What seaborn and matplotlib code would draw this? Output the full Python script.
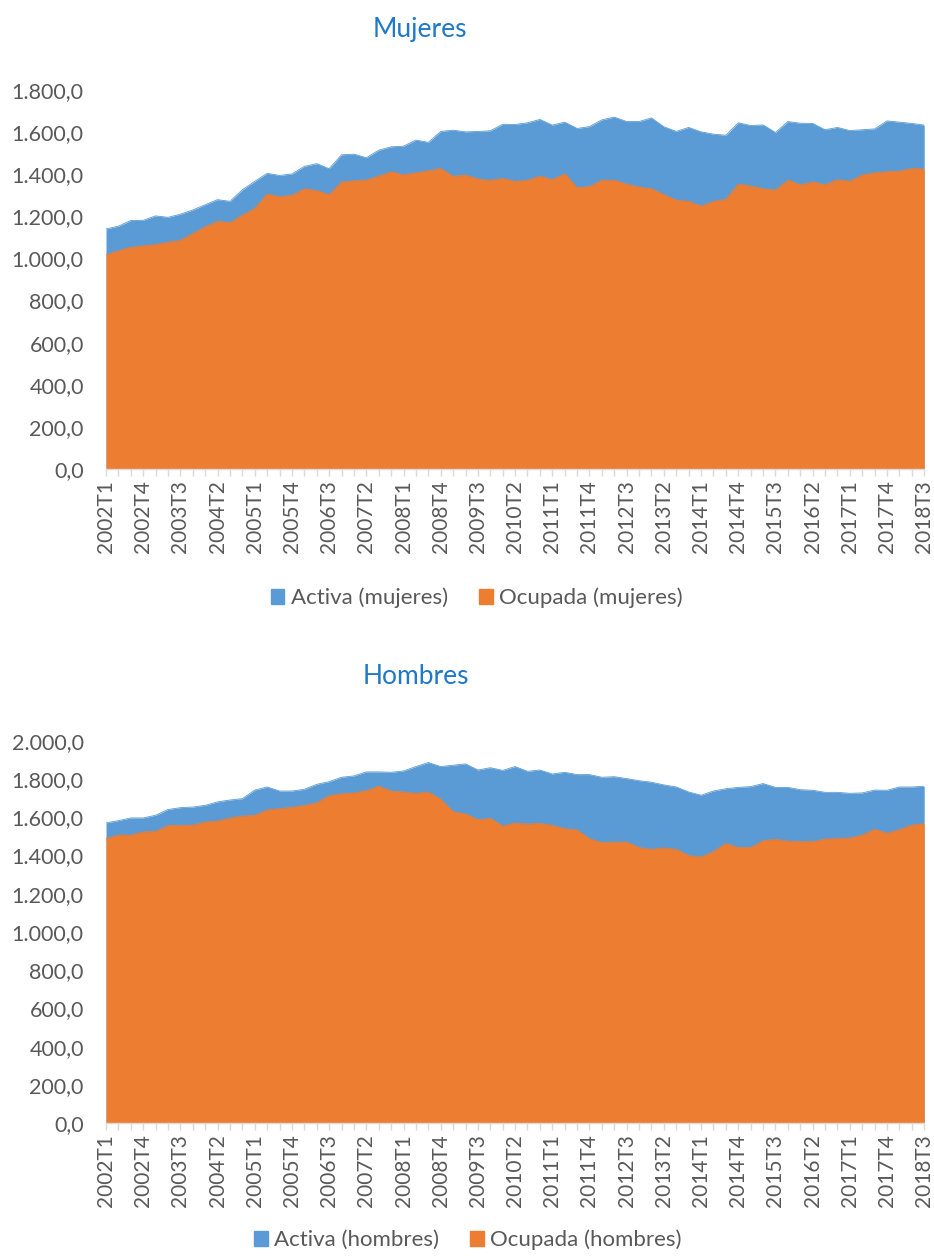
import matplotlib
matplotlib.use("Agg")
import matplotlib.pyplot as plt
import seaborn as sns
import pandas as pd
from matplotlib.ticker import FuncFormatter
from matplotlib.patches import Patch

# quarters 2002T1 .. 2018T3
quarters = [f"{y}T{q}" for y in range(2002, 2019) for q in range(1, 5)][:67]

activa_mujeres = [1140, 1153, 1180, 1181, 1202, 1195, 1210, 1230, 1255, 1279, 1271, 1326, 1366, 1404,
                  1394, 1401, 1437, 1450, 1426, 1492, 1495, 1478, 1514, 1530, 1533, 1562, 1551, 1603,
                  1609, 1601, 1603, 1606, 1637, 1636, 1644, 1660, 1633, 1647, 1617, 1626, 1658, 1671,
                  1650, 1650, 1667, 1625, 1603, 1622, 1601, 1590, 1585, 1644, 1631, 1634, 1598, 1650,
                  1642, 1641, 1611, 1622, 1607, 1611, 1615, 1653, 1647, 1641, 1633]
ocupada_mujeres = [1017, 1037, 1053, 1060, 1066, 1077, 1086, 1118, 1151, 1176, 1170, 1206, 1238, 1306,
                   1293, 1300, 1331, 1322, 1303, 1363, 1369, 1372, 1391, 1412, 1397, 1407, 1416, 1427,
                   1390, 1396, 1377, 1371, 1380, 1366, 1371, 1391, 1374, 1402, 1336, 1342, 1372, 1371,
                   1353, 1339, 1331, 1303, 1277, 1271, 1249, 1271, 1281, 1353, 1344, 1331, 1325, 1372,
                   1350, 1363, 1350, 1374, 1367, 1397, 1407, 1412, 1415, 1427, 1425]
activa_hombres = [1571, 1583, 1597, 1597, 1611, 1641, 1651, 1654, 1663, 1681, 1691, 1698, 1743, 1759,
                  1738, 1738, 1747, 1773, 1787, 1810, 1817, 1838, 1838, 1836, 1843, 1866, 1887, 1866,
                  1873, 1880, 1848, 1860, 1846, 1866, 1841, 1848, 1827, 1836, 1824, 1824, 1810, 1813,
                  1803, 1792, 1784, 1770, 1759, 1733, 1716, 1738, 1750, 1757, 1761, 1777, 1757, 1757,
                  1745, 1742, 1731, 1731, 1726, 1728, 1743, 1742, 1759, 1759, 1763]
ocupada_hombres = [1490, 1508, 1508, 1524, 1527, 1557, 1558, 1560, 1576, 1581, 1597, 1607, 1611, 1639,
                   1646, 1653, 1663, 1677, 1714, 1724, 1728, 1740, 1763, 1738, 1733, 1726, 1733, 1695,
                   1630, 1618, 1588, 1595, 1555, 1571, 1565, 1569, 1558, 1541, 1534, 1489, 1468, 1471,
                   1471, 1442, 1433, 1440, 1433, 1400, 1393, 1422, 1464, 1442, 1443, 1478, 1485, 1476,
                   1473, 1473, 1487, 1489, 1492, 1508, 1538, 1517, 1536, 1560, 1567]

BLUE = "#5B9BD5"
ORANGE = "#ED7D31"
GREY = "#595959"
TITLE_BLUE = "#1F78C8"

sns.set_theme(style="white")
plt.rcParams['font.family'] = ['Lato', 'DejaVu Sans']


def es_fmt(v, pos):
    return f"{v:,.1f}".replace(",", "X").replace(".", ",").replace("X", ".")


def area_panel(ax, activa, ocupada, ymax):
    df = pd.DataFrame({"x": range(len(quarters)), "activa": activa, "ocupada": ocupada})
    ax.fill_between(df["x"], 0, df["activa"], color=BLUE, linewidth=0)
    ax.fill_between(df["x"], 0, df["ocupada"], color=ORANGE, linewidth=0)
    sns.lineplot(data=df, x="x", y="activa", ax=ax, color=BLUE, linewidth=0.6)
    sns.lineplot(data=df, x="x", y="ocupada", ax=ax, color=ORANGE, linewidth=0.6)

    ax.set_xlim(0, len(quarters) - 1)
    ax.set_ylim(0, ymax)
    ax.set_yticks(range(0, ymax + 1, 200))
    ax.yaxis.set_major_formatter(FuncFormatter(es_fmt))
    ax.set_xticks(range(len(quarters)))
    ax.set_xticklabels([q if i % 3 == 0 else "" for i, q in enumerate(quarters)], rotation=90)
    ax.tick_params(axis="x", colors="#D9D9D9", labelcolor=GREY, labelsize=15,
                   length=5, width=1, direction="out", bottom=True, pad=3)
    ax.tick_params(axis="y", colors=GREY, labelsize=15.5, length=0, pad=16)
    ax.set_xlabel("")
    ax.set_ylabel("")
    for s in ["top", "right", "left"]:
        ax.spines[s].set_visible(False)
    ax.spines["bottom"].set_color("#D9D9D9")
    ax.spines["bottom"].set_linewidth(1)


fig = plt.figure(figsize=(9.34, 12.58), dpi=100)
ax1 = fig.add_axes([0.1135, 0.6272, 0.876, 0.3013])
ax2 = fig.add_axes([0.1135, 0.1073, 0.876, 0.3037])

area_panel(ax1, activa_mujeres, ocupada_mujeres, 1800)
area_panel(ax2, activa_hombres, ocupada_hombres, 2000)

fig.text(420 / 934, 1 - 30 / 1258, "Mujeres", color=TITLE_BLUE, fontsize=19, ha="center", va="center")
fig.text(416 / 934, 1 - 676 / 1258, "Hombres", color=TITLE_BLUE, fontsize=19, ha="center", va="center")

for lab_a, lab_o, cx, cy in [("Activa (mujeres)", "Ocupada (mujeres)", 477 / 934, 1 - 598 / 1258),
                             ("Activa (hombres)", "Ocupada (hombres)", 468 / 934, 1 - 1240 / 1258)]:
    handles = [Patch(color=BLUE, label=lab_a), Patch(color=ORANGE, label=lab_o)]
    fig.legend(handles=handles, loc="center", bbox_to_anchor=(cx, cy), ncol=2,
               frameon=False, fontsize=16, labelcolor=GREY, handlelength=0.6,
               handleheight=0.6, handletextpad=0.3, columnspacing=1.4)

fig.savefig("out.png", dpi=100)
